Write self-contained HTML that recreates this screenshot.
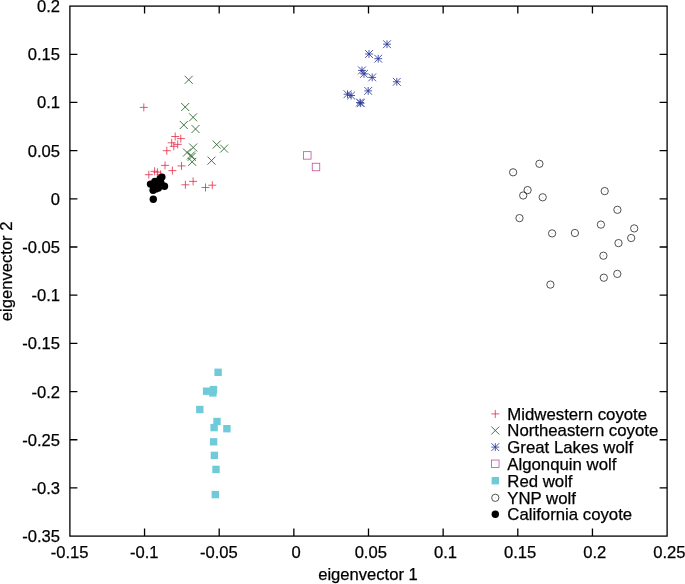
<!DOCTYPE html>
<html><head><meta charset="utf-8"><title>PCA plot</title>
<style>
html,body{margin:0;padding:0;background:#fff;}
body{width:685px;height:584px;overflow:hidden;}
svg{display:block;}
text{font-family:"Liberation Sans",Arial,Helvetica,sans-serif;font-size:16.6px;fill:#000;stroke:#000;stroke-width:0.25px;}
</style></head><body>
<svg width="685" height="584" viewBox="0 0 685 584">
<rect width="685" height="584" fill="#fff"/>
<rect x="69.9" y="6.1" width="597.20" height="530.00" fill="none" stroke="#000" stroke-width="1.3"/>
<path d="M144.55 536.1V528.6M144.55 6.1V13.6M219.20 536.1V528.6M219.20 6.1V13.6M293.85 536.1V528.6M293.85 6.1V13.6M368.50 536.1V528.6M368.50 6.1V13.6M443.15 536.1V528.6M443.15 6.1V13.6M517.80 536.1V528.6M517.80 6.1V13.6M592.45 536.1V528.6M592.45 6.1V13.6M69.9 54.28H77.4M667.1 54.28H659.6M69.9 102.46H77.4M667.1 102.46H659.6M69.9 150.65H77.4M667.1 150.65H659.6M69.9 198.83H77.4M667.1 198.83H659.6M69.9 247.01H77.4M667.1 247.01H659.6M69.9 295.19H77.4M667.1 295.19H659.6M69.9 343.37H77.4M667.1 343.37H659.6M69.9 391.55H77.4M667.1 391.55H659.6M69.9 439.74H77.4M667.1 439.74H659.6M69.9 487.92H77.4M667.1 487.92H659.6" stroke="#000" stroke-width="1.3" fill="none"/>
<text x="69.60" y="558.4" text-anchor="middle">-0.15</text>
<text x="144.25" y="558.4" text-anchor="middle">-0.1</text>
<text x="218.90" y="558.4" text-anchor="middle">-0.05</text>
<text x="296.15" y="558.4" text-anchor="middle">0</text>
<text x="370.80" y="558.4" text-anchor="middle">0.05</text>
<text x="445.45" y="558.4" text-anchor="middle">0.1</text>
<text x="520.10" y="558.4" text-anchor="middle">0.15</text>
<text x="594.75" y="558.4" text-anchor="middle">0.2</text>
<text x="669.40" y="558.4" text-anchor="middle">0.25</text>
<text x="60" y="12.10" text-anchor="end">0.2</text>
<text x="60" y="60.28" text-anchor="end">0.15</text>
<text x="60" y="108.46" text-anchor="end">0.1</text>
<text x="60" y="156.65" text-anchor="end">0.05</text>
<text x="60" y="204.83" text-anchor="end">0</text>
<text x="60" y="253.01" text-anchor="end">-0.05</text>
<text x="60" y="301.19" text-anchor="end">-0.1</text>
<text x="60" y="349.37" text-anchor="end">-0.15</text>
<text x="60" y="397.55" text-anchor="end">-0.2</text>
<text x="60" y="445.74" text-anchor="end">-0.25</text>
<text x="60" y="493.92" text-anchor="end">-0.3</text>
<text x="60" y="542.10" text-anchor="end">-0.35</text>
<text x="368" y="579.7" text-anchor="middle">eigenvector 1</text>
<text transform="translate(11.8 271.4) rotate(-90)" text-anchor="middle">eigenvector 2</text>
<g>
<path d="M139.80 107.40H147.80M143.80 103.40V111.40" stroke="#e22c46" stroke-width="0.8" fill="none"/>
<path d="M171.20 136.50H179.20M175.20 132.50V140.50" stroke="#e22c46" stroke-width="0.8" fill="none"/>
<path d="M176.80 138.60H184.80M180.80 134.60V142.60" stroke="#e22c46" stroke-width="0.8" fill="none"/>
<path d="M167.70 142.80H175.70M171.70 138.80V146.80" stroke="#e22c46" stroke-width="0.8" fill="none"/>
<path d="M173.70 144.40H181.70M177.70 140.40V148.40" stroke="#e22c46" stroke-width="0.8" fill="none"/>
<path d="M169.80 146.30H177.80M173.80 142.30V150.30" stroke="#e22c46" stroke-width="0.8" fill="none"/>
<path d="M162.80 150.70H170.80M166.80 146.70V154.70" stroke="#e22c46" stroke-width="0.8" fill="none"/>
<path d="M161.00 165.40H169.00M165.00 161.40V169.40" stroke="#e22c46" stroke-width="0.8" fill="none"/>
<path d="M177.50 165.90H185.50M181.50 161.90V169.90" stroke="#e22c46" stroke-width="0.8" fill="none"/>
<path d="M168.40 170.60H176.40M172.40 166.60V174.60" stroke="#e22c46" stroke-width="0.8" fill="none"/>
<path d="M150.60 171.30H158.60M154.60 167.30V175.30" stroke="#e22c46" stroke-width="0.8" fill="none"/>
<path d="M153.40 172.20H161.40M157.40 168.20V176.20" stroke="#e22c46" stroke-width="0.8" fill="none"/>
<path d="M144.80 174.70H152.80M148.80 170.70V178.70" stroke="#e22c46" stroke-width="0.8" fill="none"/>
<path d="M156.60 174.40H164.60M160.60 170.40V178.40" stroke="#e22c46" stroke-width="0.8" fill="none"/>
<path d="M189.10 181.40H197.10M193.10 177.40V185.40" stroke="#e22c46" stroke-width="0.8" fill="none"/>
<path d="M181.40 184.80H189.40M185.40 180.80V188.80" stroke="#e22c46" stroke-width="0.8" fill="none"/>
<path d="M208.30 185.20H216.30M212.30 181.20V189.20" stroke="#e22c46" stroke-width="0.8" fill="none"/>
<path d="M201.50 187.50H209.50M205.50 183.50V191.50" stroke="#e22c46" stroke-width="0.8" fill="none"/>
<path d="M184.70 75.80L192.70 83.80M184.70 83.80L192.70 75.80" stroke="#2d6a2d" stroke-width="0.9" fill="none"/>
<path d="M181.20 103.00L189.20 111.00M181.20 111.00L189.20 103.00" stroke="#2d6a2d" stroke-width="0.9" fill="none"/>
<path d="M189.10 113.30L197.10 121.30M189.10 121.30L197.10 113.30" stroke="#2d6a2d" stroke-width="0.9" fill="none"/>
<path d="M179.80 121.00L187.80 129.00M179.80 129.00L187.80 121.00" stroke="#2d6a2d" stroke-width="0.9" fill="none"/>
<path d="M191.50 125.00L199.50 133.00M191.50 133.00L199.50 125.00" stroke="#2d6a2d" stroke-width="0.9" fill="none"/>
<path d="M189.20 143.50L197.20 151.50M189.20 151.50L197.20 143.50" stroke="#2d6a2d" stroke-width="0.9" fill="none"/>
<path d="M212.70 140.60L220.70 148.60M212.70 148.60L220.70 140.60" stroke="#2d6a2d" stroke-width="0.9" fill="none"/>
<path d="M220.10 144.60L228.10 152.60M220.10 152.60L228.10 144.60" stroke="#2d6a2d" stroke-width="0.9" fill="none"/>
<path d="M183.00 148.50L191.00 156.50M183.00 156.50L191.00 148.50" stroke="#2d6a2d" stroke-width="0.9" fill="none"/>
<path d="M187.00 151.40L195.00 159.40M187.00 159.40L195.00 151.40" stroke="#2d6a2d" stroke-width="0.9" fill="none"/>
<path d="M187.70 152.80L195.70 160.80M187.70 160.80L195.70 152.80" stroke="#2d6a2d" stroke-width="0.9" fill="none"/>
<path d="M188.20 157.90L196.20 165.90M188.20 165.90L196.20 157.90" stroke="#2d6a2d" stroke-width="0.9" fill="none"/>
<path d="M207.50 156.60L215.50 164.60M207.50 164.60L215.50 156.60" stroke="#2d6a2d" stroke-width="0.9" fill="none"/>
<path d="M383.10 44.20H390.90M387.00 40.30V48.10" stroke="#2c3a9a" stroke-width="0.85" fill="none"/><path d="M383.10 40.30L390.90 48.10M383.10 48.10L390.90 40.30" stroke="#2c3a9a" stroke-width="0.85" fill="none"/>
<path d="M365.10 54.00H372.90M369.00 50.10V57.90" stroke="#2c3a9a" stroke-width="0.85" fill="none"/><path d="M365.10 50.10L372.90 57.90M365.10 57.90L372.90 50.10" stroke="#2c3a9a" stroke-width="0.85" fill="none"/>
<path d="M374.30 58.70H382.10M378.20 54.80V62.60" stroke="#2c3a9a" stroke-width="0.85" fill="none"/><path d="M374.30 54.80L382.10 62.60M374.30 62.60L382.10 54.80" stroke="#2c3a9a" stroke-width="0.85" fill="none"/>
<path d="M358.10 70.40H365.90M362.00 66.50V74.30" stroke="#2c3a9a" stroke-width="0.85" fill="none"/><path d="M358.10 66.50L365.90 74.30M358.10 74.30L365.90 66.50" stroke="#2c3a9a" stroke-width="0.85" fill="none"/>
<path d="M360.10 73.90H367.90M364.00 70.00V77.80" stroke="#2c3a9a" stroke-width="0.85" fill="none"/><path d="M360.10 70.00L367.90 77.80M360.10 77.80L367.90 70.00" stroke="#2c3a9a" stroke-width="0.85" fill="none"/>
<path d="M368.30 77.40H376.10M372.20 73.50V81.30" stroke="#2c3a9a" stroke-width="0.85" fill="none"/><path d="M368.30 73.50L376.10 81.30M368.30 81.30L376.10 73.50" stroke="#2c3a9a" stroke-width="0.85" fill="none"/>
<path d="M392.90 81.80H400.70M396.80 77.90V85.70" stroke="#2c3a9a" stroke-width="0.85" fill="none"/><path d="M392.90 77.90L400.70 85.70M392.90 85.70L400.70 77.90" stroke="#2c3a9a" stroke-width="0.85" fill="none"/>
<path d="M364.30 90.90H372.10M368.20 87.00V94.80" stroke="#2c3a9a" stroke-width="0.85" fill="none"/><path d="M364.30 87.00L372.10 94.80M364.30 94.80L372.10 87.00" stroke="#2c3a9a" stroke-width="0.85" fill="none"/>
<path d="M343.60 94.20H351.40M347.50 90.30V98.10" stroke="#2c3a9a" stroke-width="0.85" fill="none"/><path d="M343.60 90.30L351.40 98.10M343.60 98.10L351.40 90.30" stroke="#2c3a9a" stroke-width="0.85" fill="none"/>
<path d="M347.20 95.50H355.00M351.10 91.60V99.40" stroke="#2c3a9a" stroke-width="0.85" fill="none"/><path d="M347.20 91.60L355.00 99.40M347.20 99.40L355.00 91.60" stroke="#2c3a9a" stroke-width="0.85" fill="none"/>
<path d="M356.10 102.50H363.90M360.00 98.60V106.40" stroke="#2c3a9a" stroke-width="0.85" fill="none"/><path d="M356.10 98.60L363.90 106.40M356.10 106.40L363.90 98.60" stroke="#2c3a9a" stroke-width="0.85" fill="none"/>
<path d="M356.80 103.20H364.60M360.70 99.30V107.10" stroke="#2c3a9a" stroke-width="0.85" fill="none"/><path d="M356.80 99.30L364.60 107.10M356.80 107.10L364.60 99.30" stroke="#2c3a9a" stroke-width="0.85" fill="none"/>
<rect x="303.55" y="151.65" width="7.50" height="7.50" stroke="#c050a0" stroke-width="0.8" fill="none"/>
<rect x="312.25" y="163.25" width="7.50" height="7.50" stroke="#c050a0" stroke-width="0.8" fill="none"/>
<rect x="214.40" y="368.60" width="7.40" height="7.40" fill="#6fcbd9"/>
<rect x="202.90" y="387.50" width="7.40" height="7.40" fill="#6fcbd9"/>
<rect x="209.80" y="385.90" width="7.40" height="7.40" fill="#6fcbd9"/>
<rect x="209.20" y="389.20" width="7.40" height="7.40" fill="#6fcbd9"/>
<rect x="196.10" y="405.80" width="7.40" height="7.40" fill="#6fcbd9"/>
<rect x="213.30" y="417.80" width="7.40" height="7.40" fill="#6fcbd9"/>
<rect x="210.40" y="423.90" width="7.40" height="7.40" fill="#6fcbd9"/>
<rect x="223.20" y="425.00" width="7.40" height="7.40" fill="#6fcbd9"/>
<rect x="209.90" y="438.10" width="7.40" height="7.40" fill="#6fcbd9"/>
<rect x="210.70" y="451.70" width="7.40" height="7.40" fill="#6fcbd9"/>
<rect x="212.30" y="465.70" width="7.40" height="7.40" fill="#6fcbd9"/>
<rect x="211.60" y="490.90" width="7.40" height="7.40" fill="#6fcbd9"/>
<circle cx="539.40" cy="163.80" r="3.65" stroke="#333" stroke-width="0.85" fill="none"/><circle cx="539.40" cy="163.80" r="0.6" fill="#ccc"/>
<circle cx="513.10" cy="172.30" r="3.65" stroke="#333" stroke-width="0.85" fill="none"/><circle cx="513.10" cy="172.30" r="0.6" fill="#ccc"/>
<circle cx="527.60" cy="190.10" r="3.65" stroke="#333" stroke-width="0.85" fill="none"/><circle cx="527.60" cy="190.10" r="0.6" fill="#ccc"/>
<circle cx="523.20" cy="195.50" r="3.65" stroke="#333" stroke-width="0.85" fill="none"/><circle cx="523.20" cy="195.50" r="0.6" fill="#ccc"/>
<circle cx="542.70" cy="197.30" r="3.65" stroke="#333" stroke-width="0.85" fill="none"/><circle cx="542.70" cy="197.30" r="0.6" fill="#ccc"/>
<circle cx="604.70" cy="191.10" r="3.65" stroke="#333" stroke-width="0.85" fill="none"/><circle cx="604.70" cy="191.10" r="0.6" fill="#ccc"/>
<circle cx="617.40" cy="209.80" r="3.65" stroke="#333" stroke-width="0.85" fill="none"/><circle cx="617.40" cy="209.80" r="0.6" fill="#ccc"/>
<circle cx="519.50" cy="218.10" r="3.65" stroke="#333" stroke-width="0.85" fill="none"/><circle cx="519.50" cy="218.10" r="0.6" fill="#ccc"/>
<circle cx="600.90" cy="224.60" r="3.65" stroke="#333" stroke-width="0.85" fill="none"/><circle cx="600.90" cy="224.60" r="0.6" fill="#ccc"/>
<circle cx="634.20" cy="228.40" r="3.65" stroke="#333" stroke-width="0.85" fill="none"/><circle cx="634.20" cy="228.40" r="0.6" fill="#ccc"/>
<circle cx="552.10" cy="233.40" r="3.65" stroke="#333" stroke-width="0.85" fill="none"/><circle cx="552.10" cy="233.40" r="0.6" fill="#ccc"/>
<circle cx="574.90" cy="233.00" r="3.65" stroke="#333" stroke-width="0.85" fill="none"/><circle cx="574.90" cy="233.00" r="0.6" fill="#ccc"/>
<circle cx="631.20" cy="238.00" r="3.65" stroke="#333" stroke-width="0.85" fill="none"/><circle cx="631.20" cy="238.00" r="0.6" fill="#ccc"/>
<circle cx="618.50" cy="243.10" r="3.65" stroke="#333" stroke-width="0.85" fill="none"/><circle cx="618.50" cy="243.10" r="0.6" fill="#ccc"/>
<circle cx="603.40" cy="255.70" r="3.65" stroke="#333" stroke-width="0.85" fill="none"/><circle cx="603.40" cy="255.70" r="0.6" fill="#ccc"/>
<circle cx="617.30" cy="273.90" r="3.65" stroke="#333" stroke-width="0.85" fill="none"/><circle cx="617.30" cy="273.90" r="0.6" fill="#ccc"/>
<circle cx="603.80" cy="277.70" r="3.65" stroke="#333" stroke-width="0.85" fill="none"/><circle cx="603.80" cy="277.70" r="0.6" fill="#ccc"/>
<circle cx="550.40" cy="284.60" r="3.65" stroke="#333" stroke-width="0.85" fill="none"/><circle cx="550.40" cy="284.60" r="0.6" fill="#ccc"/>
<circle cx="161.90" cy="177.10" r="3.7" fill="#000"/>
<circle cx="160.10" cy="178.80" r="3.7" fill="#000"/>
<circle cx="154.90" cy="181.50" r="3.7" fill="#000"/>
<circle cx="150.50" cy="184.10" r="3.7" fill="#000"/>
<circle cx="153.10" cy="185.40" r="3.7" fill="#000"/>
<circle cx="157.50" cy="183.20" r="3.7" fill="#000"/>
<circle cx="164.50" cy="186.30" r="3.7" fill="#000"/>
<circle cx="158.40" cy="188.00" r="3.7" fill="#000"/>
<circle cx="153.10" cy="190.20" r="3.7" fill="#000"/>
<circle cx="155.80" cy="188.90" r="3.7" fill="#000"/>
<circle cx="160.80" cy="182.60" r="3.7" fill="#000"/>
<circle cx="157.00" cy="186.00" r="3.7" fill="#000"/>
<circle cx="153.30" cy="199.20" r="3.7" fill="#000"/>
</g>
<path d="M491.30 413.90H499.30M495.30 409.90V417.90" stroke="#e22c46" stroke-width="0.8" fill="none"/>
<text x="507.3" y="419.80" style="font-size:16.78px">Midwestern coyote</text>
<path d="M491.30 426.50L499.30 434.50M491.30 434.50L499.30 426.50" stroke="#2d6a2d" stroke-width="0.9" fill="none"/>
<text x="507.3" y="436.40" style="font-size:16.78px">Northeastern coyote</text>
<path d="M491.40 447.10H499.20M495.30 443.20V451.00" stroke="#2c3a9a" stroke-width="0.85" fill="none"/><path d="M491.40 443.20L499.20 451.00M491.40 451.00L499.20 443.20" stroke="#2c3a9a" stroke-width="0.85" fill="none"/>
<text x="507.3" y="453.00" style="font-size:16.78px">Great Lakes wolf</text>
<rect x="491.55" y="460.05" width="7.50" height="7.50" stroke="#c050a0" stroke-width="0.8" fill="none"/>
<text x="507.3" y="469.70" style="font-size:16.78px">Algonquin wolf</text>
<rect x="491.60" y="477.00" width="7.40" height="7.40" fill="#6fcbd9"/>
<text x="507.3" y="486.60" style="font-size:16.78px">Red wolf</text>
<circle cx="495.30" cy="497.80" r="3.65" stroke="#333" stroke-width="0.85" fill="none"/><circle cx="495.30" cy="497.80" r="0.6" fill="#ccc"/>
<text x="507.3" y="503.50" style="font-size:16.78px">YNP wolf</text>
<circle cx="495.30" cy="514.30" r="3.7" fill="#000"/>
<text x="507.3" y="520.20" style="font-size:16.78px">California coyote</text>
</svg>
</body></html>
